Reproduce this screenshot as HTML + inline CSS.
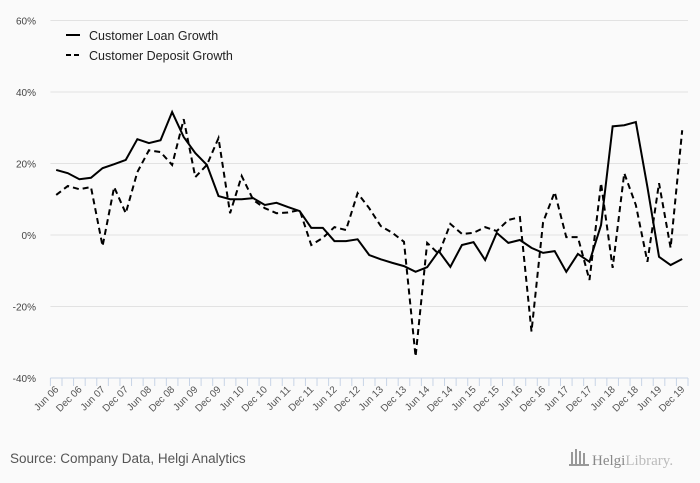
<!DOCTYPE html>
<html><head><meta charset="utf-8"><style>
body{margin:0;background:#fafafa;}
svg{display:block;font-family:"Liberation Sans",sans-serif;}
</style></head><body>
<svg width="700" height="483">
<rect width="700" height="483" fill="#fafafa"/>
<g id="grid"></g><g id="ticks"></g><g id="lines"></g>
<g>
 <line x1="66" y1="35" x2="80" y2="35" stroke="#000" stroke-width="2"/>
 <text x="89" y="40" font-size="12.5" fill="#222">Customer Loan Growth</text>
 <line x1="66" y1="55" x2="80" y2="55" stroke="#000" stroke-width="2" stroke-dasharray="5,3"/>
 <text x="89" y="60" font-size="12.5" fill="#222">Customer Deposit Growth</text>
</g>
<text x="10" y="463" font-size="13.5" fill="#555">Source: Company Data, Helgi Analytics</text>
<g fill="#999">
 <rect x="571" y="452" width="2" height="12"/><rect x="575" y="449" width="2" height="15"/><rect x="579" y="451" width="2" height="13"/><rect x="583" y="453" width="2" height="11"/>
 <rect x="569" y="464" width="20" height="2"/>
 <text x="592" y="465" font-size="15" fill="#888" font-family="Liberation Serif,serif">Helgi<tspan fill="#bbb">Library.</tspan></text>
</g>
</svg>
<script>
const categories=[];
const yTicks=[60,40,20,0,-20,-40];
const loanGrowth=[18.2,17.3,15.6,16,18.7,19.8,21,26.8,25.7,26.5,34.4,27.4,22.9,19.6,10.9,10,10,10.3,8.4,9,7.8,6.7,2,2,-1.7,-1.7,-1.2,-5.6,-6.8,-7.8,-8.7,-10.3,-9,-4.5,-8.9,-2.8,-2,-7,0.6,-2.2,-1.4,-3.6,-5,-4.5,-10.3,-5.3,-7.5,2.8,30.4,30.7,31.6,13.4,-6.1,-8.4,-6.7];
const depositGrowth=[11.2,13.7,12.8,13.4,-3.1,13.4,6.1,17.6,23.7,23.2,19.6,32.4,16.2,19.6,27.1,6.1,16.5,9.8,7.5,6.1,6.3,7,-2.8,-0.8,2.2,1.4,11.7,7.5,2.5,0.6,-1.9,-34,-2.2,-5.3,3.1,0.3,0.6,2.2,1.1,4.2,5,-27,3.6,12,-0.6,-0.6,-12.6,14.5,-9.2,17.3,8.4,-7.5,14.5,-3.6,29.3];
const mons=["Jun","Sep","Dec","Mar"];
for(let i=0;i<55;i++){const yr=6+Math.floor((i+1)/4);categories.push(mons[i%4]+" "+String(yr).padStart(2,"0"));}
const NS="http://www.w3.org/2000/svg";
const L=50.4,R=688,T=20.5,B=378;
const bw=(R-L)/categories.length;
const x=i=>L+bw*(i+0.5);
const y=v=>T+(60-v)/100*(B-T);
function mk(t,a,p){const e=document.createElementNS(NS,t);for(const k in a)e.setAttribute(k,a[k]);p.appendChild(e);return e;}
const g=document.getElementById('grid');
yTicks.forEach(v=>{
 if(v!==-40){const l=mk('line',{x1:L,x2:R,y1:y(v),y2:y(v),stroke:'#e2e2e2','stroke-width':1},g);
 
 }
 const t=mk('text',{x:36,y:y(v)+4,'text-anchor':'end','font-size':10,fill:'#444'},g);t.textContent=v+'%';
 
 
});
const tk=document.getElementById('ticks');
const ax=mk('line',{x1:L,x2:R,y1:B,y2:B,stroke:'#c8d4e6','stroke-width':1},tk);


for(let i=0;i<=categories.length;i++){
 const tx=L+bw*i;
 const l=mk('line',{x1:tx,x2:tx,y1:B,y2:B+8,stroke:'#c8d4e6','stroke-width':1},tk);
 
 
}
categories.forEach((c,i)=>{
 if(i%2)return;
 const px=x(i)+3,py=B+12;
 const t=mk('text',{x:px,y:py,'text-anchor':'end','font-size':10,fill:'#555',transform:`rotate(-45 ${px} ${py})`},tk);
 t.textContent=c;
 
 
});
const lg=document.getElementById('lines');
function series(d,dash,name){
 const p=mk('polyline',{points:d.map((v,i)=>x(i)+','+y(v)).join(' '),fill:'none',stroke:'#000','stroke-width':2,'stroke-linejoin':'miter'},lg);
 if(dash)p.setAttribute('stroke-dasharray','6,4');
 
 
}
series(depositGrowth,true,'deposit-growth-line');
series(loanGrowth,false,'loan-growth-line');
</script>
</body></html>
